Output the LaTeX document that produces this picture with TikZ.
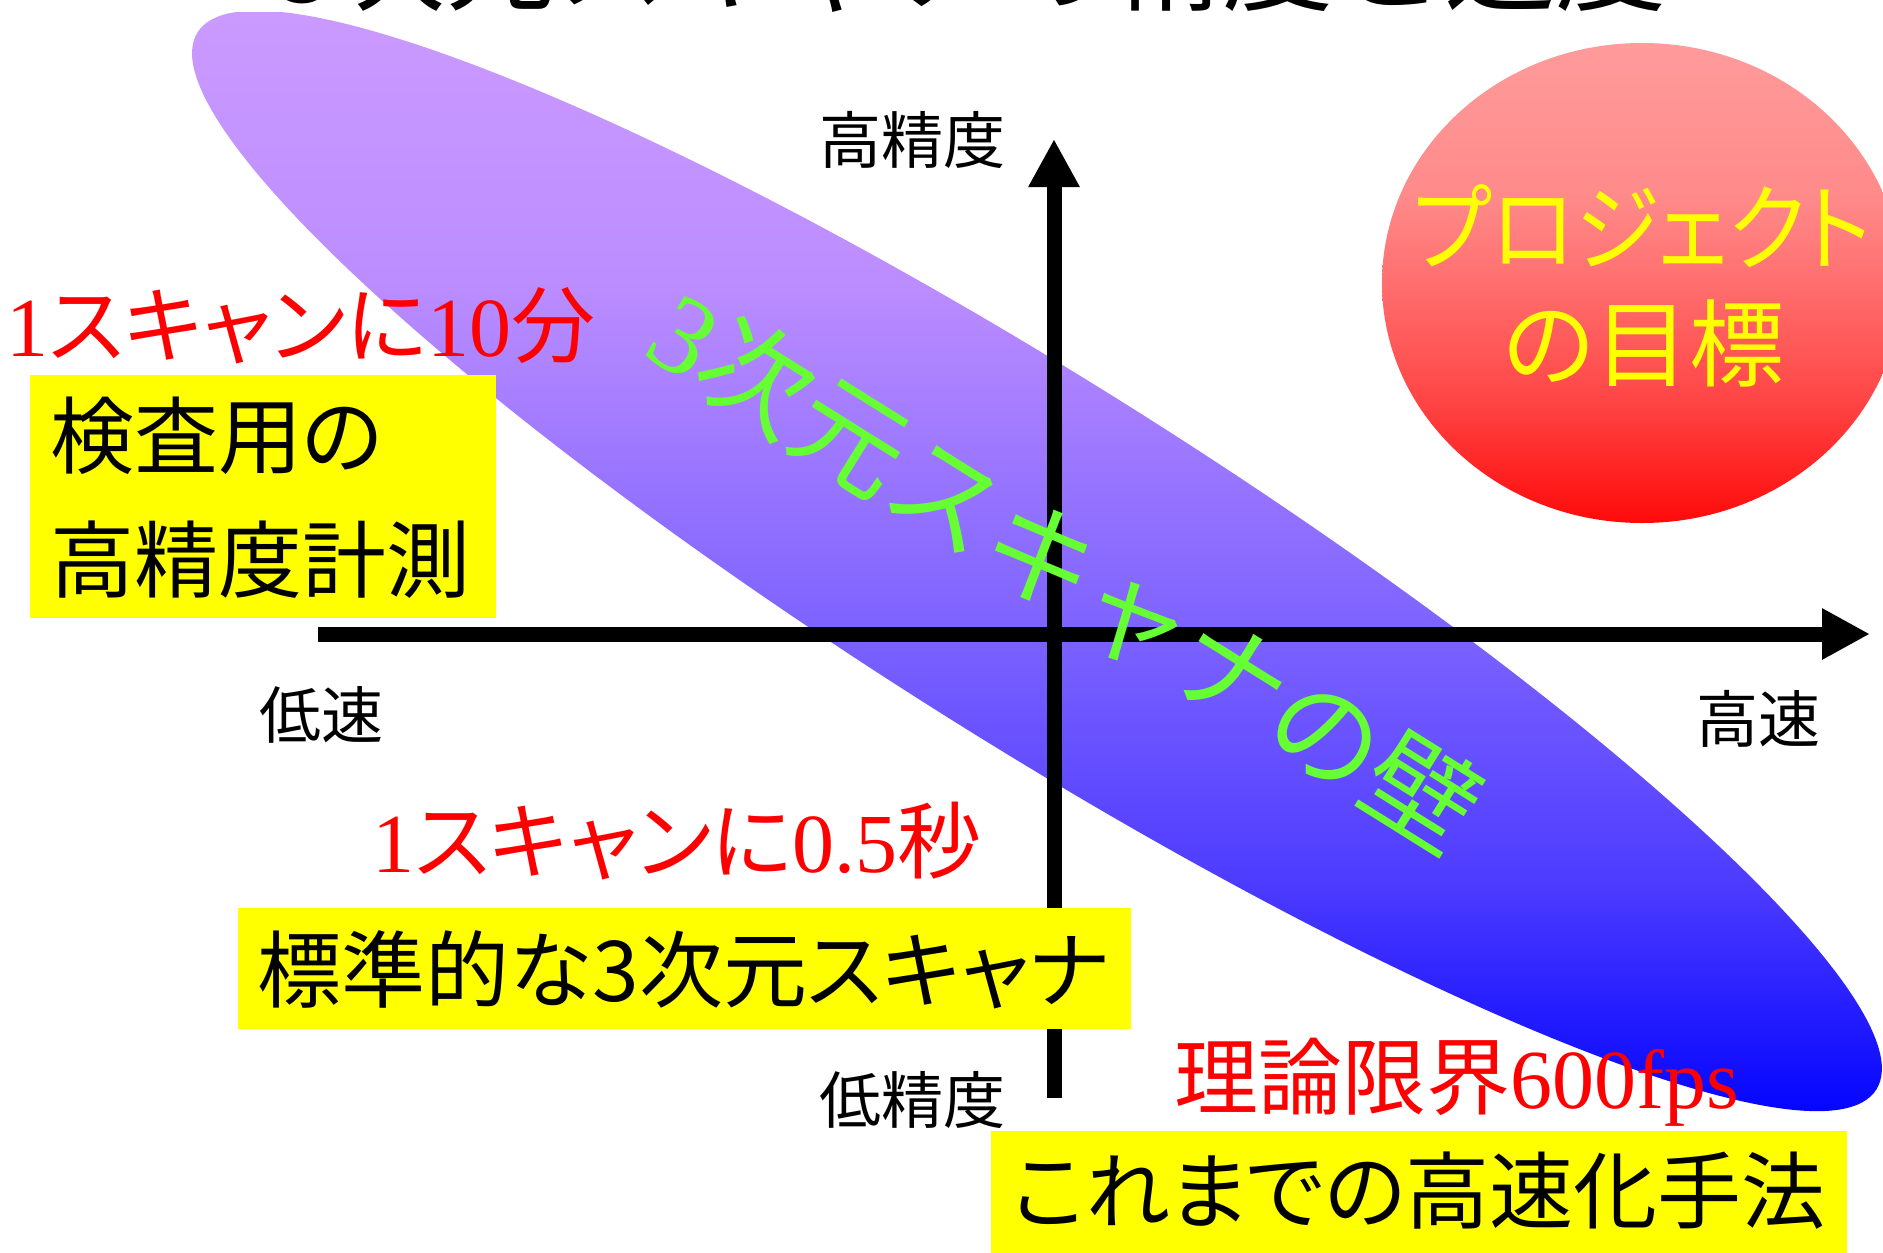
\documentclass[tikz,border=0pt]{standalone}
\usepackage{fontspec}
\setmainfont{Liberation Serif}
\newfontfamily\cjk{Noto Sans CJK JP}
\newfontfamily\cjkp[RawFeature=+palt]{Noto Sans CJK JP}
\usetikzlibrary{arrows.meta}
\definecolor{wb0}{RGB}{5,5,255}
\definecolor{wb1}{RGB}{78,60,255}
\definecolor{wb2}{RGB}{124,98,255}
\definecolor{wb3}{RGB}{188,141,255}
\definecolor{wb4}{RGB}{203,154,255}
\definecolor{gr0}{RGB}{255,10,10}
\definecolor{gr1}{RGB}{255,70,70}
\definecolor{gr2}{RGB}{255,110,110}
\definecolor{gr3}{RGB}{255,138,138}
\definecolor{gr4}{RGB}{255,155,155}
\definecolor{wallgreen}{RGB}{102,255,51}
\definecolor{boxyellow}{RGB}{255,255,0}
\pgfdeclareverticalshading{wallshade}{100bp}{color(0bp)=(wb0); color(25bp)=(wb0); color(35.5bp)=(wb1); color(46.75bp)=(wb2); color(62.8bp)=(wb3); color(75bp)=(wb4); color(100bp)=(wb4)}
\pgfdeclareverticalshading{goalshade}{100bp}{color(0bp)=(gr0); color(25bp)=(gr0); color(38bp)=(gr1); color(50bp)=(gr2); color(59bp)=(gr3); color(75bp)=(gr4); color(100bp)=(gr4)}
\newcommand\setfs[1]{\fontsize{#1}{#1}\selectfont}
\begin{document}
\begin{tikzpicture}[x=1pt,y=-1pt,
  axis/.style={line width=15pt,-{Triangle[length=48pt,width=48pt]}},
  axlabel/.style={inner sep=0pt,font=\cjk\setfs{62}},
  redtxt/.style={inner sep=0pt,text=red,anchor=base,font=\setfs{84}},
  ybox/.style={fill=boxyellow,draw=none},
  boxtxt/.style={inner sep=0pt,font=\cjkp\setfs{84}},
  goaltxt/.style={inner sep=0pt,text=boxyellow,font=\cjkp\setfs{95}},
]
\useasboundingbox (0,0) rectangle (1883,1253);
\clip (0,0) rectangle (1883,1253);

% diagonal wall ellipse
\coordinate (wallc) at (1037,561);
\begin{scope}
  \clip[rotate around={-32.2:(wallc)}] (wallc) ellipse [x radius=992pt, y radius=180pt];
  \shade[shading=wallshade] (150,12) rectangle (1900,1111);
\end{scope}

% goal ellipse
\coordinate (goalc) at (1642,283);
\shade[shading=goalshade] (goalc) ellipse [x radius=260pt, y radius=240pt];

% title (cut off at top)
\node[font=\cjk\setfs{111},anchor=base,inner sep=0pt] (title) at (970,2) {3次元スキャナの精度と速度};

% axes
\coordinate (hx0) at (318,634);
\coordinate (hx1) at (1870,634);
\coordinate (vy0) at (1054,1098);
\coordinate (vy1) at (1054,139);
\draw[axis] (hx0) -- (hx1);
\draw[axis] (vy0) -- (vy1);

% axis labels
\node[axlabel] (hiacc) at (912,140) {高精度};
\node[axlabel] (loacc) at (912,1100) {低精度};
\node[axlabel] (lospd) at (321,715) {低速};
\node[axlabel] (hispd) at (1758,719) {高速};

% yellow boxes
\fill[ybox] (30,375) rectangle (496,618);
\node[boxtxt,anchor=west] (insp1) at (50,436) {検査用の};
\node[boxtxt,anchor=west] (insp2) at (50,560) {高精度計測};

\fill[ybox] (238,908) rectangle (1131,1029);
\node[boxtxt] (std) at (684,970) {標準的な3次元スキャナ};

\fill[ybox] (991,1131) rectangle (1847,1260);
\node[boxtxt] (fast) at (1419,1191) {これまでの高速化手法};

% red texts
\node[redtxt] (t10) at (301,356) {1{\cjkp スキャンに}10{\cjkp 分}};
\node[redtxt] (t05) at (677,872) {1{\cjkp スキャンに}0.5{\cjkp 秒}};
\node[redtxt] (tfps) at (1457,1108) {{\cjk 理論限界}600fps};

% goal text
\node[goaltxt] (goal1) at (1642,226) {\scalebox{0.9}[1]{プロジェクト}};
\node[goaltxt] (goal2) at (1644,343) {の目標};

% wall text
\node[rotate=-32,text=wallgreen,inner sep=0pt,font=\setfs{112}] (wall) at (1066,570) {3{\cjk 次元スキャナの壁}};
\end{tikzpicture}
\end{document}
